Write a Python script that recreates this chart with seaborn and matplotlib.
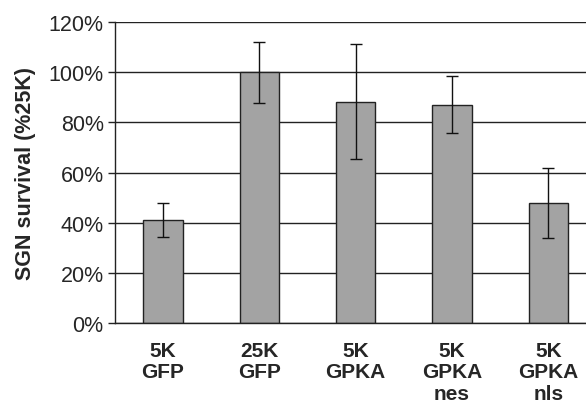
import numpy as np
import pandas as pd
import seaborn as sns
import matplotlib.pyplot as plt

# data
conditions = ["5K\nGFP", "25K\nGFP", "5K\nGPKA", "5K\nGPKA\nnes", "5K\nGPKA\nnls"]
survival   = [41, 100, 88, 87, 48]
err_low    = [6.7, 12.3, 22.7, 11.4, 14.2]
err_high   = [6.9, 11.9, 23.4, 11.7, 13.9]

df = pd.DataFrame({"Condition": conditions, "Survival": survival})

sns.set_theme(style="white")
plt.rcParams['font.family'] = ['Liberation Sans', 'DejaVu Sans']

fig = plt.figure(figsize=(5.86, 4.06), dpi=100)
ax = fig.add_axes([0.196, 0.202, 0.804, 0.741])

ax.yaxis.grid(True, color="#222222", linewidth=1.0)
ax.set_axisbelow(True)

sns.barplot(data=df, x="Condition", y="Survival", color="#a3a3a3",
            edgecolor="#222222", linewidth=1.0, width=0.41,
            errorbar=None, saturation=1, ax=ax)
ax.errorbar(np.arange(len(survival)), survival, yerr=[err_low, err_high],
            fmt="none", ecolor="#111111", elinewidth=1.0, capsize=4.5,
            capthick=1.0)

ax.set_ylim(0, 120)
ax.set_xlim(-0.5, 4.39)
ax.set_yticks(range(0, 121, 20))
ax.set_yticklabels([f"{v}%" for v in range(0, 121, 20)], fontsize=15.5)
ax.set_xticklabels(conditions, fontsize=15, fontweight="bold", linespacing=1.15)
ax.tick_params(axis="y", which="major", left=True, length=5, width=1.0,
               color="#222222", pad=3)
ax.tick_params(axis="x", length=0, pad=13)
ax.set_xlabel("")
ax.set_ylabel("SGN survival (%25K)", fontsize=15.5, fontweight="bold", labelpad=9)

for s in ["top", "right"]:
    ax.spines[s].set_visible(False)
for s in ["left", "bottom"]:
    ax.spines[s].set_color("#222222")
    ax.spines[s].set_linewidth(1.0)

fig.savefig("out.png", dpi=100)
